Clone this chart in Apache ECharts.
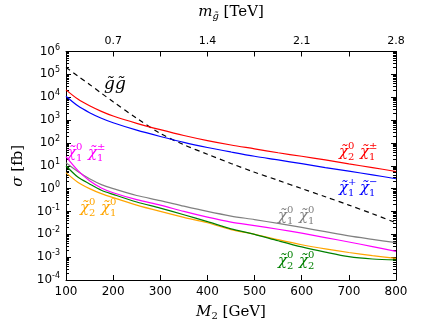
<!DOCTYPE html>
<html>
<head>
<meta charset="utf-8">
<script src="https://cdn.jsdelivr.net/npm/echarts@6/dist/echarts.min.js"></script>
<style>
  html, body { margin: 0; padding: 0; background: #fff; }
  #chart { width: 440px; height: 330px; }
</style>
</head>
<body>
<div id="chart"></div>
<script>
// M2 [GeV] sample points
let m2 = [100, 125, 150, 175, 200, 250, 300, 350, 400, 450, 500, 550, 600, 650, 700, 750, 800]
// cross sections [fb]
let sigN2C1 = [2.1e4, 8.3e3, 4.2e3, 2.4e3, 1.5e3, 720, 380, 210, 126, 81, 55, 37, 26, 18, 12, 8.3, 5.6]
let sigC1C1 = [1.1e4, 4.2e3, 2.1e3, 1.2e3, 760, 360, 190, 105, 63, 40, 26, 18, 12.3, 8.3, 5.8, 4.0, 2.7]
let sigGG = [2.0e5, 8.5e4, 3.6e4, 1.5e4, 6.3e3, 1.2e3, 260, 83, 32, 12.6, 5.2, 2.3, 1.0, 0.44, 0.19, 0.079, 0.032]
let sigN1N1 = [13.5, 5.6, 2.7, 1.5, 1.0, 0.5, 0.3, 0.17, 0.10, 0.063, 0.044, 0.030, 0.020, 0.013, 0.0085, 0.006, 0.0043]
let sigN1C1 = [25, 6.3, 2.2, 1.07, 0.66, 0.33, 0.19, 0.10, 0.056, 0.034, 0.024, 0.0166, 0.0112, 0.0072, 0.0046, 0.0029, 0.0018]
let sigN2N2 = [10, 3.2, 1.6, 0.85, 0.56, 0.26, 0.14, 0.072, 0.036, 0.0174, 0.010, 0.0052, 0.0028, 0.00166, 0.00105, 0.00083, 0.00076]
let sigN2N1 = [5.0, 1.9, 1.0, 0.6, 0.4, 0.19, 0.1, 0.055, 0.032, 0.016, 0.010, 0.0058, 0.0035, 0.0023, 0.0016, 0.00117, 0.00089]
// axis ticks
let m2Ticks = [100, 200, 300, 400, 500, 600, 700, 800]
let gluinoLabels = ['', '0.7', '', '1.4', '', '2.1', '', '2.8']

let pairs = function (vals) {
  return m2.map((x, i) => [x, vals[i]])
}

let serif = '"DejaVu Serif", "Liberation Serif", serif'
let sans = '"DejaVu Sans", sans-serif'

// label like  chi~ ^0 _2  chi~ ^+- _1
let chiLabel = function (x, y, color, parts) {
  let els = []
  let cx = x
  parts.forEach(p => {
    els.push({ type: 'text', x: cx, y: y, style: { text: 'χ\u0303', fill: color, fontFamily: serif, fontStyle: 'italic', fontSize: 15, verticalAlign: 'middle' } })
    els.push({ type: 'text', x: cx + 9, y: y - 6, style: { text: p[0], fill: color, fontFamily: serif, fontSize: 10, verticalAlign: 'middle' } })
    els.push({ type: 'text', x: cx + 9, y: y + 5, style: { text: p[1], fill: color, fontFamily: serif, fontSize: 10, verticalAlign: 'middle' } })
    cx += 21
  })
  return els
}

let myChart = echarts.init(document.getElementById('chart'))

let lineSeries = function (name, vals, color, dashed) {
  return {
    name: name,
    type: 'line',
    data: pairs(vals),
    showSymbol: false,
    smooth: 0.3,
    silent: true,
    lineStyle: { color: color, width: 1.2, type: dashed ? [5, 4] : 'solid' },
    itemStyle: { color: color }
  }
}

let tickStyle = { inside: true, length: 5, lineStyle: { color: '#000', width: 1 } }

let option = {
  backgroundColor: '#fff',
  animation: false,
  grid: { left: 66, right: 44, top: 49, bottom: 50 },
  xAxis: [
    {
      type: 'value',
      position: 'bottom',
      min: 100,
      max: 800,
      interval: 100,
      axisLine: { lineStyle: { color: '#000', width: 1 } },
      axisTick: tickStyle,
      axisLabel: { color: '#000', fontSize: 12, fontFamily: sans, margin: 6 },
      splitLine: { show: false },
      name: '{i|M}{s|2} [GeV]',
      nameLocation: 'middle',
      nameGap: 23,
      nameTextStyle: {
        color: '#000', fontFamily: serif, fontSize: 15,
        rich: {
          i: { fontFamily: serif, fontStyle: 'italic', fontSize: 15, color: '#000' },
          s: { fontFamily: serif, fontSize: 10, color: '#000', padding: [8, 0, 0, 0] }
        }
      }
    },
    {
      type: 'value',
      position: 'top',
      min: 100,
      max: 800,
      interval: 100,
      axisLine: { lineStyle: { color: '#000', width: 1 } },
      axisTick: tickStyle,
      axisLabel: {
        color: '#000', fontSize: 11, fontFamily: sans, margin: 5,
        formatter: v => gluinoLabels[m2Ticks.indexOf(v)] || ''
      },
      splitLine: { show: false },
      name: '{i|m}{s|g̃} [TeV]',
      nameLocation: 'middle',
      nameGap: 30,
      nameTextStyle: {
        color: '#000', fontFamily: serif, fontSize: 15,
        rich: {
          i: { fontFamily: serif, fontStyle: 'italic', fontSize: 15, color: '#000' },
          s: { fontFamily: serif, fontStyle: 'italic', fontSize: 10, color: '#000', padding: [8, 0, 0, 0] }
        }
      }
    }
  ],
  yAxis: [
    {
      type: 'log',
      logBase: 10,
      position: 'left',
      min: 1e-4,
      max: 1e6,
      interval: 1,
      axisLine: { show: true, lineStyle: { color: '#000', width: 1 } },
      axisTick: tickStyle,
      minorTick: { show: true, splitNumber: 9, length: 3, lineStyle: { color: '#000' } },
      axisLabel: {
        color: '#000', fontSize: 12, fontFamily: sans, margin: 6,
        formatter: v => '10{e|' + Math.round(Math.log10(v)) + '}',
        rich: { e: { fontSize: 8, fontFamily: sans, color: '#000', padding: [0, 0, 8, 0] } }
      },
      splitLine: { show: false },
      name: '{i|σ} [fb]',
      nameLocation: 'middle',
      nameGap: 35,
      nameTextStyle: {
        color: '#000', fontFamily: serif, fontSize: 15,
        rich: { i: { fontFamily: serif, fontStyle: 'italic', fontSize: 15, color: '#000' } }
      }
    },
    {
      type: 'log',
      logBase: 10,
      position: 'right',
      min: 1e-4,
      max: 1e6,
      interval: 1,
      axisLine: { show: true, lineStyle: { color: '#000', width: 1 } },
      axisTick: tickStyle,
      minorTick: { show: true, splitNumber: 9, length: 3, lineStyle: { color: '#000' } },
      axisLabel: { show: false },
      splitLine: { show: false }
    }
  ],
  series: [
    lineSeries('gg', sigGG, '#000000', true),
    lineSeries('N2C1', sigN2C1, '#ff0000'),
    lineSeries('C1C1', sigC1C1, '#0000ff'),
    lineSeries('N1N1', sigN1N1, '#808080'),
    lineSeries('N1C1', sigN1C1, '#ff00ff'),
    lineSeries('N2N1', sigN2N1, '#ffa500'),
    lineSeries('N2N2', sigN2N2, '#008000')
  ],
  graphic: [
    { type: 'text', x: 104, y: 85, style: { text: 'g\u0303g\u0303', fill: '#000', fontFamily: serif, fontStyle: 'italic', fontSize: 17, verticalAlign: 'middle' } }
  ].concat(
    chiLabel(67, 153, '#ff00ff', [['0', '1'], ['±', '1']]),
    chiLabel(339, 152, '#ff0000', [['0', '2'], ['±', '1']]),
    chiLabel(339, 188, '#0000ff', [['+', '1'], ['−', '1']]),
    chiLabel(278, 216, '#808080', [['0', '1'], ['0', '1']]),
    chiLabel(80, 208, '#ffa500', [['0', '2'], ['0', '1']]),
    chiLabel(278, 261, '#008000', [['0', '2'], ['0', '2']])
  )
}
myChart.setOption(option)
</script>
</body>
</html>
